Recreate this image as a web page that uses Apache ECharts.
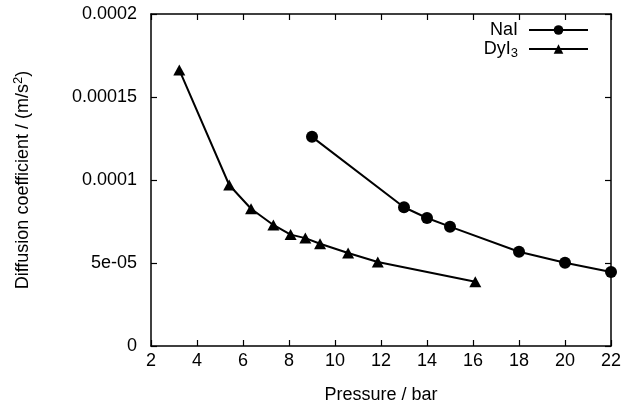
<!DOCTYPE html>
<html>
<head>
<meta charset="utf-8">
<script src="https://cdn.jsdelivr.net/npm/echarts@6/dist/echarts.min.js"></script>
<style>
  html, body { margin: 0; padding: 0; background: #fff; }
  #chart { width: 629px; height: 410px; }
</style>
</head>
<body>
<div id="chart"></div>
<script>
// Diffusion coefficient vs. pressure for two salts
const naiPressure = [9, 13, 14, 15, 18, 20, 22];
const naiDiff = [1.26e-4, 8.36e-5, 7.71e-5, 7.19e-5, 5.68e-5, 5.02e-5, 4.46e-5];

const dyPressure = [3.23, 5.40, 6.35, 7.32, 8.07, 8.71, 9.35, 10.57, 11.86, 16.1];
const dyDiff = [1.663e-4, 9.70e-5, 8.27e-5, 7.29e-5, 6.71e-5, 6.50e-5, 6.16e-5, 5.60e-5, 5.06e-5, 3.87e-5];

const yTickLabels = { 0: '0', 5e-5: '5e-05', 1e-4: '0.0001', 1.5e-4: '0.00015', 2e-4: '0.0002' };

const FONT = 'Liberation Sans, Arial, Helvetica, sans-serif';
const INK = '#000';
const FS = 18;

function pairs(xs, ys) { return xs.map((x, i) => [x, ys[i]]); }

const chart = echarts.init(document.getElementById('chart'), null, { renderer: 'canvas' });

const axisCommon = {
  axisLine: { show: true, onZero: false, lineStyle: { color: INK, width: 1.5 } },
  axisTick: { show: true, inside: true, length: 6, lineStyle: { color: INK, width: 1.2 } },
  splitLine: { show: false }
};

chart.setOption({
  animation: false,
  backgroundColor: '#fff',
  grid: { left: 151, right: 18, top: 14, bottom: 64 },
  legend: {
    right: 40,
    top: 21,
    orient: 'vertical',
    align: 'right',
    itemWidth: 59,
    itemHeight: 12,
    itemGap: -1,
    padding: 0,
    data: ['NaI', 'DyI3'],
    formatter: name => name === 'DyI3' ? 'DyI{sub|3}' : name,
    textStyle: {
      fontFamily: FONT, fontSize: FS, color: INK, lineHeight: 18, padding: [0, 6, 0, 0],
      rich: { sub: { fontFamily: FONT, fontSize: 13, color: INK, lineHeight: 18, padding: [9, 0, 0, 0] } }
    }
  },
  xAxis: [
    Object.assign({
      type: 'value', min: 2, max: 22, interval: 2, position: 'bottom',
      name: 'Pressure / bar', nameLocation: 'middle', nameGap: 40,
      nameTextStyle: { fontFamily: FONT, fontSize: FS, color: INK },
      axisLabel: { fontFamily: FONT, fontSize: FS, color: INK, margin: 6 }
    }, axisCommon),
    Object.assign({
      type: 'value', min: 2, max: 22, interval: 2, position: 'top',
      axisLabel: { show: false }
    }, axisCommon)
  ],
  yAxis: [
    Object.assign({
      type: 'value', min: 0, max: 2e-4, interval: 5e-5, position: 'left',
      name: 'Diffusion coefficient / (m/s{sup|2})', nameLocation: 'middle', nameGap: 116, nameRotate: 90,
      nameTextStyle: {
        fontFamily: FONT, fontSize: FS, color: INK,
        rich: { sup: { fontFamily: FONT, fontSize: 13, color: INK, padding: [0, 0, 10, 0] } }
      },
      axisLabel: {
        fontFamily: FONT, fontSize: FS, color: INK, margin: 14,
        formatter: v => {
          for (const k in yTickLabels) { if (Math.abs(Number(k) - v) < 1e-9) return yTickLabels[k]; }
          return '';
        }
      }
    }, axisCommon),
    Object.assign({
      type: 'value', min: 0, max: 2e-4, interval: 5e-5, position: 'right',
      axisLabel: { show: false }
    }, axisCommon)
  ],
  series: [
    {
      name: 'NaI', type: 'line', xAxisIndex: 0, yAxisIndex: 0,
      data: pairs(naiPressure, naiDiff),
      symbol: 'circle', symbolSize: 12,
      lineStyle: { color: INK, width: 2 },
      itemStyle: { color: INK },
      z: 5
    },
    {
      name: 'DyI3', type: 'line', xAxisIndex: 0, yAxisIndex: 0,
      data: pairs(dyPressure, dyDiff),
      symbol: 'triangle', symbolSize: [12, 11],
      lineStyle: { color: INK, width: 2 },
      itemStyle: { color: INK },
      z: 5
    }
  ]
});
</script>
</body>
</html>
